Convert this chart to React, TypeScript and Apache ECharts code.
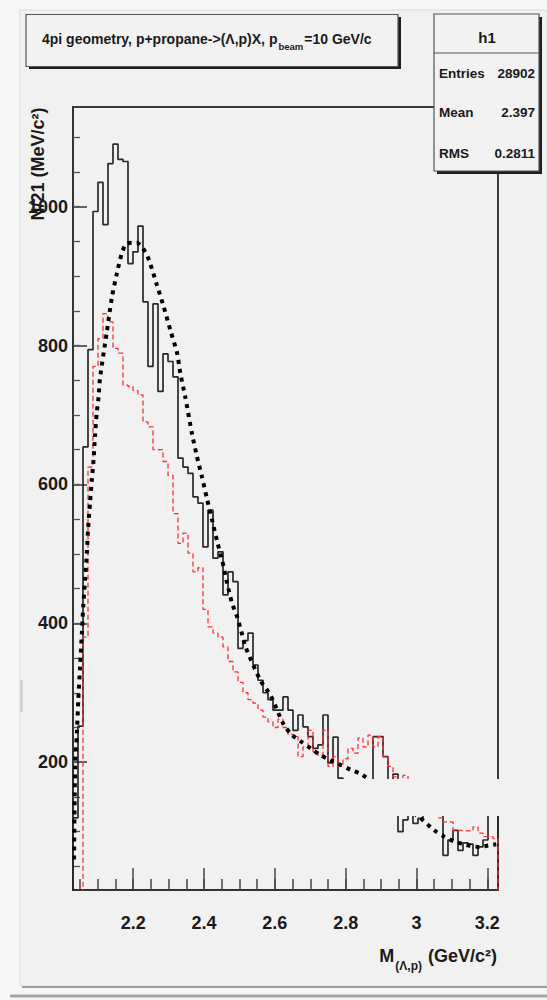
import React, { useEffect, useRef } from "react";
import * as echarts from "echarts";

const FONT = "'Liberation Sans', Arial, Helvetica, sans-serif";

// Histogram binning of M(Lambda,p) in GeV/c^2
const BIN_LOW = 2.03;
const BIN_HIGH = 3.23;
const BIN_COUNT = 85;

const Y_MIN = 16;
const Y_MAX = 1143.5;

// Lambda-p invariant mass spectrum (solid black)
const lambdaPCounts = [
  120, 252, 654, 794, 993, 1035, 974, 1062, 1090, 1068,
  1065, 918, 935, 972, 863, 770, 860, 734, 788, 777,
  755, 638, 625, 616, 582, 573, 510, 563, 494, 503,
  441, 474, 460, 364, 375, 386, 340, 318, 300, 290,
  275, 275, 294, 275, 246, 268, 251, 237, 220, 225,
  268, 199, 236, 177, 165, 165, 160, 165, 170, 170,
  237, 237, 208, 160, 183, 100, 117, 140, 112, 119,
  140, 140, 135, 130, 66, 88, 102, 73, 84, 82,
  66, 78, 88, 150, 150,
];

// Background spectrum (red dashed)
const backgroundCounts = [
  0, 0, 380, 625, 770, 810, 846, 834, 796, 789,
  743, 741, 735, 729, 690, 683, 650, 650, 633, 613,
  558, 515, 530, 501, 474, 480, 420, 395, 386, 380,
  366, 345, 330, 315, 300, 290, 285, 275, 265, 258,
  250, 262, 250, 240, 237, 208, 222, 246, 215, 210,
  246, 194, 208, 194, 205, 220, 213, 235, 222, 239,
  222, 237, 208, 194, 179, 175, 181, 160, 150, 140,
  130, 125, 125, 120, 114, 114, 102, 102, 101, 101,
  107, 98, 93, 93, 90,
];

// Fitted background curve (thick dotted black)
const fitMass = [
  2.033, 2.036, 2.041, 2.045, 2.050, 2.055, 2.059, 2.064, 2.069, 2.073,
  2.078, 2.083, 2.088, 2.092, 2.097, 2.102, 2.106, 2.125, 2.140, 2.154,
  2.168, 2.182, 2.210, 2.234, 2.248, 2.267, 2.286, 2.305, 2.324, 2.333,
  2.347, 2.366, 2.380, 2.394, 2.408, 2.423, 2.437, 2.451, 2.465, 2.479,
  2.493, 2.508, 2.517, 2.559, 2.588, 2.625, 2.649, 2.673, 2.701, 2.729,
  2.757, 2.786, 2.814, 2.847, 3.012, 3.050, 3.078, 3.106, 3.140, 3.177,
  3.202, 3.225,
];
const fitCounts = [
  60, 193, 242, 290, 338, 386, 425, 462, 501, 539,
  573, 606, 635, 669, 703, 725, 752, 818, 870, 904,
  933, 947, 948, 935, 918, 887, 856, 822, 789, 760,
  726, 673, 640, 611, 580, 548, 518, 491, 458, 429,
  410, 383, 366, 318, 296, 254, 239, 230, 220, 210,
  203, 196, 189, 182, 119, 102, 93, 86, 81, 78,
  80, 82,
];

const xLabelTicks = [2.2, 2.4, 2.6, 2.8, 3, 3.2];
const xSmallTicks = [
  2.05, 2.1, 2.15, 2.2, 2.25, 2.3, 2.35, 2.4, 2.45, 2.5, 2.55, 2.6,
  2.65, 2.7, 2.75, 2.8, 2.85, 2.9, 2.95, 3, 3.05, 3.1, 3.15, 3.2,
];
const yLabelTicks = [200, 400, 600, 800, 1000];
const ySmallTicks = [
  50, 100, 150, 200, 250, 300, 350, 400, 450, 500, 550, 600,
  650, 700, 750, 800, 850, 900, 950, 1000, 1050, 1100,
];

const statsName = "h1";
const statsLabels = ["Entries", "Mean", "RMS"];
const statsValues = ["28902", "2.397", "0.2811"];

const titleMain = "4pi geometry, p+propane->(\u039B,p)X, p";
const titleSub = "beam";
const titleTail = "=10 GeV/c";
const yTitle = "N/21 (MeV/c\u00B2)";
const xTitleMain = "M";
const xTitleSub = "(\u039B,p)";
const xTitleTail = "(GeV/c\u00B2)";

function stepPoints(counts: number[]): number[][] {
  const width = (BIN_HIGH - BIN_LOW) / BIN_COUNT;
  const pts: number[][] = [[BIN_LOW, Y_MIN - 5]];
  counts.forEach((c, i) => {
    const lo = BIN_LOW + i * width;
    pts.push([lo, c], [lo + width, c]);
  });
  pts.push([BIN_LOW + counts.length * width, Y_MIN - 5]);
  return pts;
}

function textWidth(text: string, font: string): number {
  const c = document.createElement("canvas").getContext("2d");
  if (!c) return text.length * 8;
  c.font = font;
  return c.measureText(text).width;
}

function txt(x: number, y: number, text: string, size: number, align = "left", extra: any = {}) {
  return {
    type: "text",
    x,
    y,
    z: 120,
    ...extra,
    style: {
      text,
      font: `bold ${size}px ${FONT}`,
      fill: "#1a1a1a",
      align,
      verticalAlign: "middle",
      textAlign: align,
      textVerticalAlign: "middle",
    },
  };
}

export default function App() {
  const ref = useRef<HTMLDivElement>(null);

  useEffect(() => {
    if (!ref.current) return;
    const chart = echarts.init(ref.current, undefined, { renderer: "svg" });

    const labelFont = { fontFamily: FONT, fontWeight: "bold" as const, fontSize: 18, color: "#1a1a1a" };

    // title pieces
    const tMainW = textWidth(titleMain, `bold 14px ${FONT}`);
    const tSubW = textWidth(titleSub, `bold 9.5px ${FONT}`);
    const tx = 42;

    // x-axis title pieces, right aligned to the frame
    const xmW = textWidth(xTitleMain, `bold 18px ${FONT}`);
    const xsW = textWidth(xTitleSub, `bold 12px ${FONT}`);
    const xtW = textWidth(xTitleTail, `bold 18px ${FONT}`);
    const xRight = 497;
    const xStart = xRight - (xmW + 1 + xsW + 6 + xtW);

    const graphic: any[] = [
      // canvas panel
      { type: "rect", z: -10, shape: { x: 20, y: 10, width: 527, height: 976 }, style: { fill: "#f1f1f1", stroke: "#dcdcdc", lineWidth: 1 } },
      { type: "line", z: -9, shape: { x1: 22, y1: 987, x2: 547, y2: 987 }, style: { stroke: "#9c9c9c", lineWidth: 2 } },
      { type: "line", z: -9, shape: { x1: 10, y1: 996, x2: 547, y2: 996 }, style: { stroke: "#a6a6a6", lineWidth: 3 } },
      { type: "line", z: -9, shape: { x1: 21.5, y1: 680, x2: 21.5, y2: 712 }, style: { stroke: "#c8c8c8", lineWidth: 2 } },

      // blank band across the lower right of the frame
      { type: "rect", z: 90, shape: { x: 90, y: 779, width: 412, height: 37 }, style: { fill: "#f1f1f1" } },

      // title box
      { type: "rect", z: 110, shape: { x: 29, y: 17, width: 372, height: 52 }, style: { fill: "#1e1e1e" } },
      { type: "rect", z: 111, shape: { x: 26, y: 14.5, width: 372, height: 52 }, style: { fill: "#f2f2f2", stroke: "#555", lineWidth: 1.2 } },
      txt(tx, 38.5, titleMain, 14),
      txt(tx + tMainW + 1, 46, titleSub, 9.5),
      txt(tx + tMainW + tSubW + 2, 38.5, titleTail, 14),

      // stats box
      { type: "rect", z: 110, shape: { x: 437, y: 17, width: 105, height: 157 }, style: { fill: "#1e1e1e" } },
      { type: "rect", z: 111, shape: { x: 434, y: 14, width: 105, height: 157 }, style: { fill: "#f2f2f2", stroke: "#555", lineWidth: 1.2 } },
      { type: "line", z: 112, shape: { x1: 434, y1: 53, x2: 539, y2: 53 }, style: { stroke: "#555", lineWidth: 1.2 } },
      txt(487, 37, statsName, 15, "center"),
      ...statsLabels.map((l, i) => txt(439, [73, 112, 153][i], l, 13.5)),
      ...statsValues.map((v, i) => txt(535, [73, 112, 153][i], v, 13.5, "right")),

      // axis titles
      txt(38, 164, yTitle, 18, "center", { rotation: Math.PI / 2 }),
      txt(xStart, 956, xTitleMain, 18),
      txt(xStart + xmW + 1, 966, xTitleSub, 12),
      txt(xStart + xmW + 1 + xsW + 6, 956, xTitleTail, 18),
    ];

    const option: any = {
      animation: false,
      backgroundColor: "#f6f6f6",
      grid: {
        left: 73,
        top: 107,
        width: 425,
        height: 783,
        show: true,
        backgroundColor: "rgba(0,0,0,0)",
        borderColor: "#3a3a3a",
        borderWidth: 2,
      },
      xAxis: [
        {
          type: "value",
          min: BIN_LOW,
          max: BIN_HIGH,
          position: "bottom",
          axisLine: { show: true, lineStyle: { color: "#333", width: 2 } },
          axisTick: { show: true, inside: true, length: 22, customValues: xLabelTicks, lineStyle: { color: "#444", width: 1.5 } },
          axisLabel: { show: true, customValues: xLabelTicks, margin: 24, formatter: (v: number) => String(v), ...labelFont },
          splitLine: { show: false },
        },
        {
          type: "value",
          min: BIN_LOW,
          max: BIN_HIGH,
          position: "bottom",
          axisLine: { show: false },
          axisTick: { show: true, inside: true, length: 11, customValues: xSmallTicks, lineStyle: { color: "#444", width: 1.5 } },
          axisLabel: { show: false },
          splitLine: { show: false },
        },
      ],
      yAxis: [
        {
          type: "value",
          min: Y_MIN,
          max: Y_MAX,
          position: "left",
          axisLine: { show: true, lineStyle: { color: "#333", width: 2 } },
          axisTick: { show: true, inside: true, length: 14, customValues: yLabelTicks, lineStyle: { color: "#333", width: 1.5 } },
          axisLabel: { show: true, customValues: yLabelTicks, margin: 5, formatter: (v: number) => String(v), ...labelFont },
          splitLine: { show: false },
        },
        {
          type: "value",
          min: Y_MIN,
          max: Y_MAX,
          position: "left",
          axisLine: { show: false },
          axisTick: { show: true, inside: true, length: 7, customValues: ySmallTicks, lineStyle: { color: "#555", width: 1.3 } },
          axisLabel: { show: false },
          splitLine: { show: false },
        },
      ],
      series: [
        {
          type: "line",
          name: "lambda-p",
          xAxisIndex: 0,
          yAxisIndex: 0,
          data: stepPoints(lambdaPCounts),
          showSymbol: false,
          lineStyle: { color: "#2a2a2a", width: 1.7 },
          z: 3,
        },
        {
          type: "line",
          name: "background",
          xAxisIndex: 0,
          yAxisIndex: 0,
          data: stepPoints(backgroundCounts),
          showSymbol: false,
          lineStyle: { color: "#ff3030", width: 1.3, type: [5, 3] },
          z: 4,
        },
        {
          type: "line",
          name: "fit",
          xAxisIndex: 0,
          yAxisIndex: 0,
          data: fitMass.map((m, i) => [m, fitCounts[i]]),
          showSymbol: false,
          smooth: 0.25,
          lineStyle: { color: "#000", width: 4, type: [4, 5], cap: "butt" },
          z: 5,
        },
      ],
      graphic,
    };

    chart.setOption(option);
    return () => chart.dispose();
  }, []);

  return (
    <div
      ref={ref}
      style={{ position: "absolute", left: 0, top: 0, width: 547, height: 1000 }}
    />
  );
}
